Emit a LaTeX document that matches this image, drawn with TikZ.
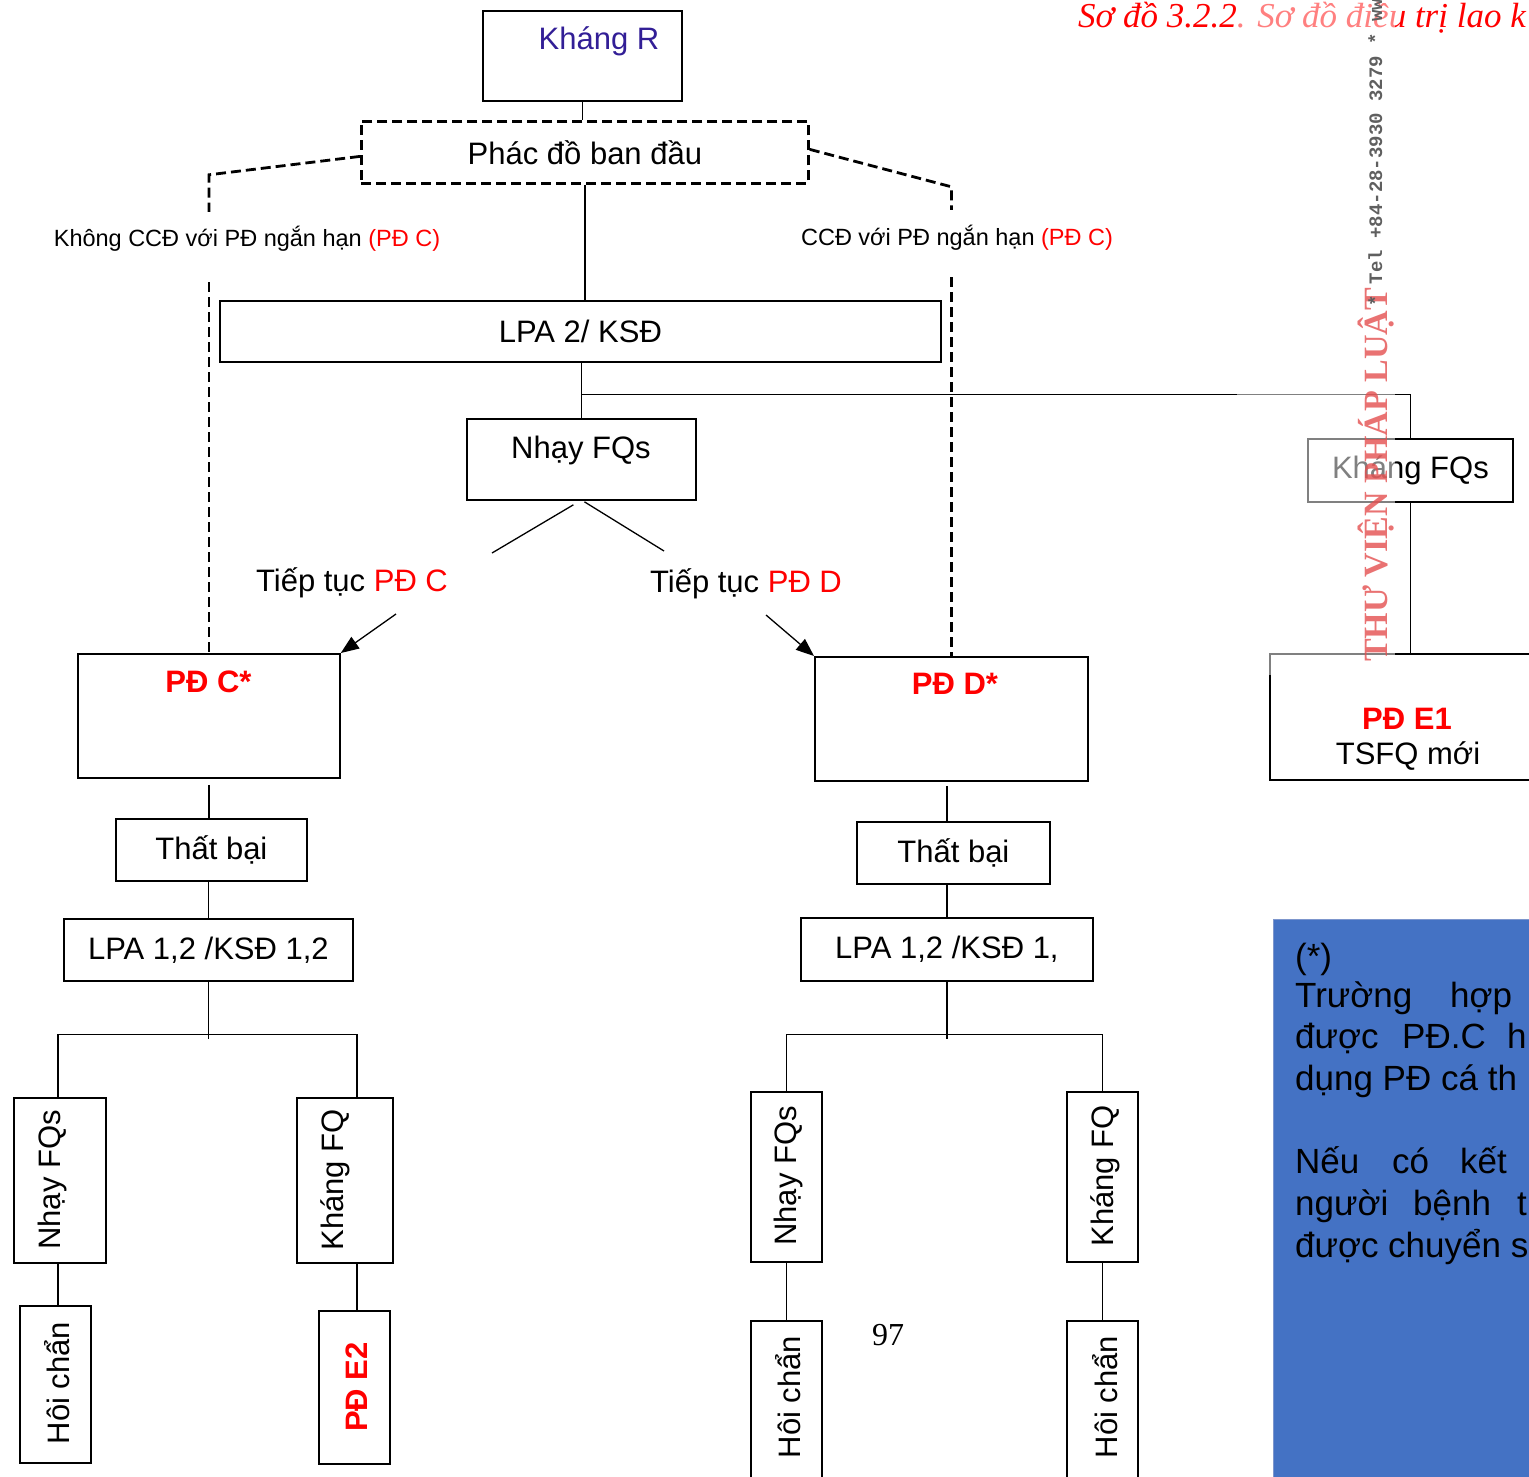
\documentclass[tikz,border=0pt]{standalone}
\usepackage{fontspec}
\setmainfont{Liberation Sans}
\newfontfamily\captionserif{Liberation Serif}
\newfontfamily\stampmono{Liberation Mono}
\usetikzlibrary{arrows.meta,calc}

\definecolor{pdred}{RGB}{255,0,0}
\definecolor{khangpurple}{RGB}{50,30,150}
\definecolor{noteblue}{RGB}{68,114,196}
\definecolor{noteedge}{RGB}{125,150,205}
\definecolor{stampred}{RGB}{228,80,80}
\definecolor{stampgray}{RGB}{95,95,95}

\tikzset{
  flowbox/.style={draw, line width=1.8pt, inner sep=0pt, anchor=north west},
  dashbox/.style={flowbox, line width=2.8pt, dash pattern=on 10pt off 5pt},
  dashlink/.style={draw, line width=2.8pt, dash pattern=on 10pt off 5pt},
  linkline/.style={draw, line width=1.3pt},
  arrowlink/.style={linkline, -{Triangle[length=18pt,width=14pt]}},
  bigtxt/.style={font=\fontsize{31}{37}\selectfont},
  smalltxt/.style={font=\fontsize{23.5}{28}\selectfont},
  redbold/.style={font=\fontsize{31}{37}\selectfont\bfseries, text=pdred},
  vtxt/.style={bigtxt, rotate=90},
  notetxt/.style={font=\fontsize{35}{41.5}\selectfont, anchor=base west, inner sep=0pt}
}

\begin{document}
\begin{tikzpicture}[x=1pt,y=-1pt]
\useasboundingbox (0,0) rectangle (1529,1476);
\clip (0,0) rectangle (1529,1476);

\node[flowbox, minimum width=199pt, minimum height=90pt] (kr) at (482,10) {};
\node[bigtxt, text=khangpurple, anchor=base] (krt) at (599,49) {Kháng R};
\node[dashbox, bigtxt, minimum width=447pt, minimum height=62pt] (pd) at (360,120) {Phác đồ ban đầu};
\node[smalltxt, inner sep=0pt, text height=34.5pt, text depth=35.5pt, anchor=base] (lblL) at (247,246.5) {Không CCĐ với PĐ ngắn hạn {\color{pdred}(PĐ C)}};
\node[smalltxt, inner sep=0pt, text height=35pt, text depth=32pt, anchor=base] (lblR) at (957,245) {CCĐ với PĐ ngắn hạn {\color{pdred}(PĐ C)}};
\node[flowbox, bigtxt, minimum width=721pt, minimum height=61pt] (lpa) at (219,300) {LPA 2/ KSĐ};
\node[flowbox, minimum width=229pt, minimum height=81pt] (nfq) at (466,418) {};
\node[bigtxt, anchor=base] (nfqt) at (581,458) {Nhạy FQs};
\node[bigtxt, anchor=base] (tcC) at (352,591) {Tiếp tục {\color{pdred}PĐ C}};
\node[bigtxt, anchor=base] (tcD) at (746,592) {Tiếp tục {\color{pdred}PĐ D}};
\node[flowbox, bigtxt, minimum width=205pt, minimum height=63pt] (kfq) at (1307,438) {Kháng FQs};
\node[flowbox, minimum width=300pt, minimum height=126pt] (e1) at (1269,653) {};
\node[redbold, anchor=base] (e1a) at (1407,729) {PĐ E1};
\node[bigtxt, anchor=base] (e1b) at (1408,764) {TSFQ mới};

% nhanh PD C
\node[flowbox, minimum width=262pt, minimum height=124pt] (pdc) at (77,653) {};
\node[redbold, anchor=base] (pdct) at (208.5,692) {PĐ C*};
\node[flowbox, bigtxt, minimum width=191pt, minimum height=62pt] (tbC) at (115,818) {Thất bại};
\node[flowbox, bigtxt, minimum width=289pt, minimum height=62pt] (lpaC) at (63,918) {LPA 1,2 /KSĐ 1,2};
\node[flowbox, minimum width=92pt, minimum height=165pt] (nhayC) at (13,1097) {};
\node[vtxt] (nhayCt) at (52,1180) {Nhạy FQs};
\node[flowbox, minimum width=71pt, minimum height=157pt] (hoiC) at (19,1305) {};
\node[vtxt] (hoiCt) at (57,1383) {Hôi chẩn};
\node[flowbox, minimum width=96pt, minimum height=165pt] (khangC) at (296,1097) {};
\node[vtxt] (khangCt) at (335,1180) {Kháng FQ};
\node[flowbox, minimum width=71pt, minimum height=153pt] (e2) at (318,1310) {};
\node[redbold, rotate=90] (e2t) at (357,1387) {PĐ E2};

% nhanh PD D
\node[flowbox, minimum width=273pt, minimum height=124pt] (pdd) at (814,656) {};
\node[redbold, anchor=base] (pddt) at (955,694) {PĐ D*};
\node[flowbox, bigtxt, minimum width=193pt, minimum height=62pt] (tbD) at (856,821) {Thất bại};
\node[flowbox, bigtxt, minimum width=292pt, minimum height=63pt] (lpaD) at (800,917) {LPA 1,2 /KSĐ 1,};
\node[flowbox, minimum width=71pt, minimum height=170pt] (nhayD) at (750,1091) {};
\node[vtxt] (nhayDt) at (788,1176) {Nhạy FQs};
\node[flowbox, minimum width=71pt, minimum height=170pt] (hoiD) at (750,1320) {};
\node[vtxt] (hoiDt) at (788,1397) {Hôi chẩn};
\node[flowbox, minimum width=71pt, minimum height=170pt] (khangD) at (1066,1091) {};
\node[vtxt] (khangDt) at (1105,1176) {Kháng FQ};
\node[flowbox, minimum width=71pt, minimum height=170pt] (hoiDD) at (1066,1320) {};
\node[vtxt] (hoiDDt) at (1105,1397) {Hôi chẩn};

\draw[linkline] (kr.south) -- (kr.south |- pd.north);
\draw[linkline] (pd.south) -- (pd.south |- lpa.north);
\draw[dashlink] ($(pd.west)+(0,4)$) -- ($(lblL.north -| pdc.north)+(0,-37)$) -- (lblL.north -| pdc.north);
\draw[dashlink] (lblL.south -| pdc.north) -- (pdc.north);
\draw[dashlink] ($(pd.east)+(0,-3)$) -- ($(lblR.north -| pdd.north)+(0,-23)$) -- (lblR.north -| pdd.north);
\draw[dashlink] (lblR.south -| pdd.north) -- (pdd.north);
\draw[linkline] (lpa.south -| nfq.north) -- (nfq.north);
\draw[linkline] ($(lpa.south -| nfq.north)+(0,32)$) -| (kfq.north);
\draw[linkline] (kfq.south) -- (kfq.south |- e1.north);
\draw[linkline] ($(nfq.south)+(-8,4)$) -- ($(tcC.base)+(140,-38)$);
\draw[linkline] ($(nfq.south)+(3,1)$) -- ($(tcD.base)+(-82,-41)$);
\draw[arrowlink] ($(tcC.base)+(44,23)$) -- (pdc.north east);
\draw[arrowlink] ($(tcD.base)+(20,23)$) -- (pdd.north west);

\draw[linkline] ($(pdc.south)+(0,6)$) -- (pdc.south |- tbC.north);
\draw[linkline] (tbC.south -| lpaC.north) -- (lpaC.north);
\draw[linkline] (lpaC.south) -- ++(0,57);
\draw[linkline] ($(nhayC.north)+(-2,0)$) |- ($(lpaC.south)+(0,53)$) -| ($(khangC.north)+(12,0)$);
\draw[linkline] ($(nhayC.south)+(-2,0)$) -- ($(nhayC.south |- hoiC.north)+(-2,0)$);
\draw[linkline] ($(khangC.south)+(12,0)$) -- ($(khangC.south |- e2.north)+(12,0)$);

\draw[linkline] ($(pdd.south -| lpaD.north)+(0,4)$) -- (tbD.north -| lpaD.north);
\draw[linkline] (tbD.south -| lpaD.north) -- (lpaD.north);
\draw[linkline] (lpaD.south) -- ++(0,57);
\draw[linkline] (nhayD.north) |- ($(lpaD.south)+(0,53)$) -| (khangD.north);
\draw[linkline] (nhayD.south) -- (hoiD.north);
\draw[linkline] (khangD.south) -- (hoiDD.north);

% ghi chu
\node[draw=noteedge, fill=noteblue, line width=1pt, anchor=north west, minimum width=300pt, minimum height=600pt] (note) at (1273,919) {};
\foreach \yb/\txt in {968/{(*)}, 1007/{\makebox[155pt][l]{Trường}hợp},
    1048/{\makebox[107pt][l]{được}\makebox[105pt][l]{PĐ.C}h}, 1090/{dụng PĐ cá th},
    1173/{\makebox[97pt][l]{Nếu}\makebox[68pt][l]{có}kết},
    1215/{\makebox[118pt][l]{người}\makebox[104pt][l]{bệnh}t}, 1257/{được chuyển s}}
  \node[notetxt] (note\yb) at (1295,\yb) {\txt};

\node[font=\captionserif\fontsize{32}{38}\selectfont, anchor=base west, inner sep=0pt] (pgnum) at (872,1345) {97};
\node[font=\captionserif\itshape\fontsize{35}{42}\selectfont, text=pdred, anchor=base west, inner sep=0pt] (title) at (1078,27) {Sơ đồ 3.2.2. Sơ đồ điều trị lao k};

% dau in
\fill[white, opacity=0.5] (1237,0) rectangle (1395,675);
\node[font=\captionserif\bfseries\fontsize{34}{40}\selectfont, text=stampred, opacity=0.8, rotate=90, anchor=base west, inner sep=0pt] (stamp) at (1387,662) {THƯ VIỆN PHÁP LUẬT};
\node[font=\stampmono\bfseries\fontsize{19}{23}\selectfont, text=stampgray, rotate=90, anchor=base west, inner sep=0pt] (stamptel) at (1382,307) {* Tel +84-28-3930 3279 * www};
\end{tikzpicture}
\end{document}
